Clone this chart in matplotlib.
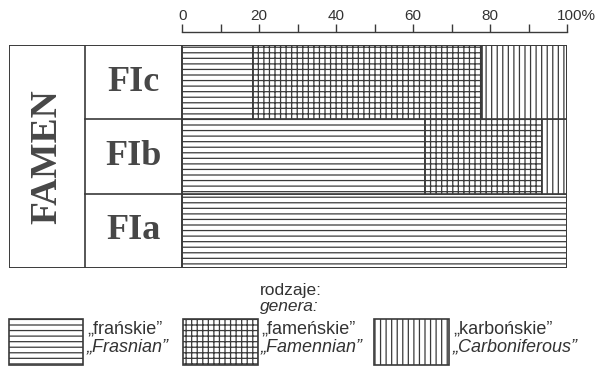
import matplotlib
matplotlib.use("Agg")
import matplotlib.pyplot as plt
from matplotlib.patches import Rectangle
from matplotlib.transforms import ScaledTranslation

# data (percent of genera per zone)
zones = ["FIa", "FIb", "FIc"]
frasnian = [100, 63, 18.5]
famennian = [0, 30.5, 59.5]
carboniferous = [0, 6.5, 22]
stage = "FAMEN"
ticks_major = [0, 20, 40, 60, 80, 100]
ticks_minor = [10, 30, 50, 70, 90]
tick_labels = ["0", "20", "40", "60", "80", "100%"]
legend_pl = ["\u201efrańskie\u201d", "\u201efameńskie\u201d", "\u201ekarbońskie\u201d"]
legend_en = ["\u201eFrasnian\u201d", "\u201eFamennian\u201d", "\u201eCarboniferous\u201d"]
hatches = ["---", "+++", "|||"]

W, H = 596, 367
ink = "#3a3a3a"
txt = "#333333"
plt.rcParams["hatch.linewidth"] = 0.9
plt.rcParams["hatch.color"] = "#3c3c3c"
sans = ["Liberation Sans", "DejaVu Sans"]

fig = plt.figure(figsize=(W / 100, H / 100), dpi=100)

def fx(px):
    return px / W

def fy(py):
    return 1 - py / H

# main table axes: from x=9 to 567 px, y=45 to 268 px
ax = fig.add_axes([fx(9), fy(268), fx(567 - 9), fy(45) - fy(268)])
ax.set_xlim(-45, 100)
ax.set_ylim(-0.5, 2.5)

y = range(len(zones))
left = [0] * len(zones)
for vals, h in zip([frasnian, famennian, carboniferous], hatches):
    ax.barh(y, vals, left=left, height=1.0, color="white", edgecolor=ink,
            hatch=h, linewidth=1.2, zorder=2)
    left = [a + b for a, b in zip(left, vals)]

# left part of the table
ax.add_patch(Rectangle((-45, -0.5), 145, 3, fill=False, ec=ink, lw=1.4, zorder=4))
ax.plot([-25.25, -25.25], [-0.5, 2.5], color=ink, lw=1.2, zorder=4)
ax.plot([0, 0], [-0.5, 2.5], color=ink, lw=1.2, zorder=4)
for yy in [0.5, 1.5]:
    ax.plot([-25.25, 0], [yy, yy], color=ink, lw=1.2, zorder=4)

for i, z in enumerate(zones):
    ax.text(-12.7, i, z, ha="center", va="center",
            fontsize=26, fontweight="bold", family="Liberation Serif", color="#474747")
ax.text(-35.1, 1, stage, ha="center", va="center", rotation=90,
        fontsize=27, fontweight="bold", family="Liberation Serif", color="#474747")

# percent axis on top
for s in ["left", "right", "bottom"]:
    ax.spines[s].set_visible(False)
ax.spines["top"].set_position(("outward", 9.4))
ax.spines["top"].set_bounds(0, 100)
ax.spines["top"].set_color(ink)
ax.spines["top"].set_linewidth(1.0)
ax.xaxis.set_ticks_position("top")
ax.set_xticks(ticks_major)
ax.set_xticklabels(tick_labels, family=sans, fontsize=11, color=txt)
ax.set_xticks(ticks_minor, minor=True)
ax.tick_params(axis="x", which="both", direction="out", length=6, width=1.0,
               color=ink, pad=0.5)
ax.set_yticks([])
lab = ax.get_xticklabels()[-1]
lab.set_transform(lab.get_transform() + ScaledTranslation(9.5 / 100, 0, fig.dpi_scale_trans))

# legend
fig.text(fx(260), fy(295), "rodzaje:", family=sans, fontsize=12.5, color=txt, va="baseline")
fig.text(fx(260), fy(311.5), "genera:", family=sans, style="italic", fontsize=12.5,
         color=txt, va="baseline")
boxes_x = [9, 183, 374]
boxes_w = [74, 75, 75]
texts_x = [87, 261, 453]
for bx, bw, tx, h, pl, en in zip(boxes_x, boxes_w, texts_x, hatches, legend_pl, legend_en):
    fig.add_artist(Rectangle((fx(bx), fy(365)), fx(bw), fy(319) - fy(365),
                             transform=fig.transFigure, fc="white", ec=ink,
                             hatch=h, lw=1.2))
    fig.text(fx(tx), fy(333), pl, family=sans, fontsize=13, color=txt, va="baseline")
    fig.text(fx(tx), fy(351.5), en, family=sans, style="italic", fontsize=13,
             color=txt, va="baseline")

fig.savefig("out.png", dpi=100)
